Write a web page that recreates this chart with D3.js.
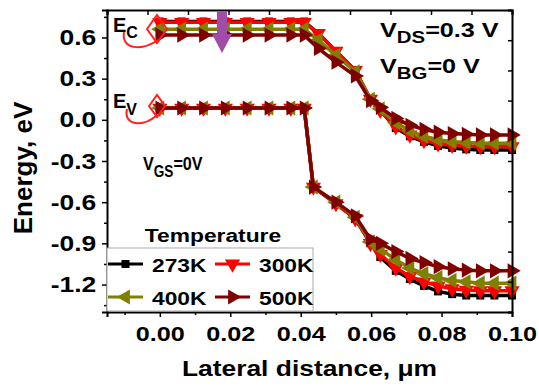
<!DOCTYPE html>
<html>
<head>
<meta charset="utf-8">
<script src="https://cdn.jsdelivr.net/npm/d3@7"></script>
<style>
  body { margin: 0; background: #fff; }
  text { font-family: "Liberation Sans", Arial, sans-serif; font-weight: bold; fill: #000; }
</style>
</head>
<body>
<div id="chart"></div>
<script>
const width = 539;
const height = 386;

// lateral positions (um) of the mesh points
const xEc = [0, 0.0062, 0.0124, 0.0186, 0.0248, 0.031, 0.0372, 0.041, 0.045, 0.050, 0.0555, 0.0598, 0.0626, 0.067, 0.071, 0.075, 0.079, 0.083, 0.087, 0.091, 0.095, 0.1];
const xEv = [0, 0.0062, 0.0124, 0.0186, 0.0248, 0.031, 0.0372, 0.041, 0.0436, 0.050, 0.0555, 0.0598, 0.0626, 0.067, 0.071, 0.075, 0.079, 0.083, 0.087, 0.091, 0.095, 0.1];

// conduction band edge (eV)
const ec273 = [0.716, 0.716, 0.716, 0.716, 0.716, 0.716, 0.716, 0.716, 0.63, 0.50, 0.36, 0.15, 0.07, -0.06, -0.12, -0.16, -0.19, -0.205, -0.215, -0.22, -0.22, -0.22];
const ec300 = [0.71, 0.71, 0.71, 0.71, 0.71, 0.71, 0.71, 0.71, 0.63, 0.50, 0.36, 0.15, 0.07, -0.05, -0.11, -0.15, -0.175, -0.185, -0.19, -0.195, -0.195, -0.195];
const ec400 = [0.66, 0.66, 0.66, 0.66, 0.66, 0.66, 0.66, 0.66, 0.58, 0.47, 0.35, 0.15, 0.08, -0.02, -0.08, -0.12, -0.145, -0.16, -0.165, -0.17, -0.17, -0.17];
const ec500 = [0.617, 0.617, 0.617, 0.617, 0.617, 0.617, 0.617, 0.617, 0.52, 0.42, 0.32, 0.14, 0.09, 0.01, -0.04, -0.07, -0.09, -0.10, -0.105, -0.11, -0.11, -0.11];

// valence band edge (eV)
const ev273 = [0.086, 0.086, 0.086, 0.086, 0.086, 0.086, 0.086, 0.086, -0.49, -0.61, -0.72, -0.90, -1.0, -1.10, -1.16, -1.21, -1.25, -1.27, -1.28, -1.28, -1.28, -1.28];
const ev300 = [0.086, 0.086, 0.086, 0.086, 0.086, 0.086, 0.086, 0.086, -0.49, -0.61, -0.72, -0.90, -0.98, -1.08, -1.14, -1.18, -1.21, -1.23, -1.24, -1.245, -1.245, -1.245];
const ev400 = [0.086, 0.086, 0.086, 0.086, 0.086, 0.086, 0.086, 0.086, -0.49, -0.60, -0.71, -0.89, -0.94, -1.02, -1.08, -1.12, -1.15, -1.17, -1.18, -1.19, -1.19, -1.19];
const ev500 = [0.086, 0.086, 0.086, 0.086, 0.086, 0.086, 0.086, 0.086, -0.49, -0.60, -0.70, -0.87, -0.90, -0.96, -1.01, -1.04, -1.07, -1.085, -1.095, -1.10, -1.10, -1.10];

const temps = ["273K", "300K", "400K", "500K"];
const colors = ["#000000", "#ff0000", "#808000", "#800000"];
const ecSeries = [ec273, ec300, ec400, ec500];
const evSeries = [ev273, ev300, ev400, ev500];

const xMajor = [0, 0.02, 0.04, 0.06, 0.08, 0.1];
const xMinor = [-0.01, 0.01, 0.03, 0.05, 0.07, 0.09];
const yMajor = [-1.2, -0.9, -0.6, -0.3, 0, 0.3, 0.6];
const yMinor = [-1.35, -1.05, -0.75, -0.45, -0.15, 0.15, 0.45, 0.75];

const mLeft = 107, mRight = 512, mTop = 10, mBottom = 312;
const STRETCH = 1.2; // the source figure is slightly widened

const x = d3.scaleLinear().domain([-0.015, 0.1]).range([mLeft, mRight]);
const y = d3.scaleLinear().domain([-1.4, 0.8]).range([mBottom, mTop]);
// frame ticks on top / right follow their own even spacing
const xTop = d3.scaleLinear().domain([0, 1]).range([mLeft, mRight]);
const yRight = d3.scaleLinear().domain([0, 1]).range([mBottom, mTop]);

const svg = d3.select("#chart")
    .append("svg")
    .attr("width", width)
    .attr("height", height);

// markers
const markerPath = [
    d3.symbol().type(d3.symbolSquare).size(64)(),
    d3.symbol().type(d3.symbolTriangle).size(100)(),
    d3.symbol().type(d3.symbolTriangle).size(100)(),
    d3.symbol().type(d3.symbolTriangle).size(100)()
];
const markerRot = [0, 180, -90, 90];

const line = d3.line().x(d => x(d[0])).y(d => y(d[1]));
const plot = svg.append("g");

temps.forEach((t, i) => {
    [[xEc, ecSeries[i]], [xEv, evSeries[i]]].forEach(([xs, ys]) => {
        const pts = xs.map((v, k) => [v, ys[k]]);
        plot.append("path")
            .attr("d", line(pts))
            .attr("fill", "none")
            .attr("stroke", colors[i])
            .attr("stroke-width", 3.5)
            .attr("stroke-linejoin", "round");
        plot.selectAll(null)
            .data(pts)
            .join("path")
            .attr("d", markerPath[i])
            .attr("transform", d => `translate(${x(d[0])},${y(d[1])}) rotate(${markerRot[i]})`)
            .attr("fill", colors[i]);
    });
});

// axes
function styleAxis(g) {
    g.select(".domain").attr("stroke-width", 2);
    g.selectAll(".tick line").attr("stroke-width", 1.5);
}

svg.append("g")
    .attr("transform", `translate(0,${mBottom})`)
    .call(d3.axisBottom(x).tickValues(xMinor).tickSize(3).tickFormat(""))
    .call(g => g.select(".domain").remove())
    .call(styleAxis);
svg.append("g")
    .attr("transform", `translate(0,${mBottom})`)
    .call(d3.axisBottom(x).tickValues(xMajor).tickSize(5).tickPadding(9).tickFormat(d => d.toFixed(2)))
    .call(styleAxis)
    .call(g => g.selectAll("text")
        .style("font-size", "21px")
        .attr("transform", `scale(${STRETCH},1)`));

svg.append("g")
    .attr("transform", `translate(${mLeft},0)`)
    .call(d3.axisLeft(y).tickValues(yMinor).tickSize(3).tickFormat(""))
    .call(g => g.select(".domain").remove())
    .call(styleAxis);
svg.append("g")
    .attr("transform", `translate(${mLeft},0)`)
    .call(d3.axisLeft(y).tickValues(yMajor).tickSize(5).tickPadding(4).tickFormat(d => d.toFixed(1)))
    .call(styleAxis)
    .call(g => g.selectAll("text")
        .style("font-size", "22px")
        .attr("transform", `scale(${STRETCH},1)`));

svg.append("g")
    .attr("transform", `translate(0,${mTop})`)
    .call(d3.axisBottom(xTop).ticks(10).tickSize(5).tickFormat(""))
    .call(styleAxis);
svg.append("g")
    .attr("transform", `translate(${mRight},0)`)
    .call(d3.axisLeft(yRight).ticks(10).tickSize(4).tickFormat(""))
    .call(styleAxis);

svg.selectAll(".domain").attr("stroke", "#000");

// axis titles
svg.append("text")
    .attr("transform", `translate(${(mLeft + mRight) / 2},376) scale(${STRETCH},1)`)
    .attr("text-anchor", "middle")
    .style("font-size", "22px")
    .text("Lateral distance, μm");

svg.append("text")
    .attr("transform", "translate(32,168) rotate(-90)")
    .attr("text-anchor", "middle")
    .style("font-size", "26px")
    .text("Energy, eV");

// text with subscripts
function label(px, py, size, parts, sx) {
    const t = svg.append("text")
        .attr("transform", `translate(${px},${py}) scale(${sx},1)`)
        .style("font-size", size + "px");
    parts.forEach(p => {
        t.append("tspan")
            .attr("dy", p[1] || 0)
            .style("font-size", p[2] ? p[2] + "px" : null)
            .text(p[0]);
    });
}

label(380, 37, 21, [["V"], ["DS", 6, 17], ["=0.3 V", -6]], STRETCH);
label(380, 73, 21, [["V"], ["BG", 6, 17], ["=0 V", -6]], STRETCH);
label(143, 170, 19, [["V"], ["GS", 7, 16], ["=0V", -7]], 0.85);
label(113, 32, 20, [["E"], ["C", 6, 16]], 1);
label(113, 108, 20, [["E"], ["V", 7, 16]], 1);

// red markers around band labels
svg.append("path")
    .attr("d", "M124,32 C121,50 142,51 158,40")
    .attr("fill", "none").attr("stroke", "#ff2020").attr("stroke-width", 2);
svg.append("path")
    .attr("d", "M147,29 L157,15 L167,29 L157,43 Z")
    .attr("fill", "none").attr("stroke", "#ff2020").attr("stroke-width", 2);
svg.append("path")
    .attr("d", "M127,109 C123,126 143,127 156,116")
    .attr("fill", "none").attr("stroke", "#ff2020").attr("stroke-width", 2);
svg.append("path")
    .attr("d", "M149,106 L157,95 L165,106 L157,117 Z")
    .attr("fill", "none").attr("stroke", "#ff2020").attr("stroke-width", 2);

// purple arrow
svg.append("path")
    .attr("d", "M217,11 L227,11 L227,34 L232,34 L222,53 L212,34 L217,34 Z")
    .attr("fill", "#a04ca8");

// legend
svg.append("text")
    .attr("transform", `translate(213,242) scale(${STRETCH},1)`)
    .attr("text-anchor", "middle")
    .style("font-size", "19px")
    .text("Temperature");

svg.append("rect")
    .attr("x", mLeft).attr("y", 248)
    .attr("width", 313 - mLeft).attr("height", mBottom - 248 - 1)
    .attr("fill", "#fff")
    .attr("stroke", "#aaa")
    .attr("stroke-width", 1);

const legPos = [[108, 264], [215, 264], [108, 297], [215, 297]];
temps.forEach((t, i) => {
    const [lx, ly] = legPos[i];
    const g = svg.append("g");
    g.append("line")
        .attr("x1", lx).attr("x2", lx + 35)
        .attr("y1", ly).attr("y2", ly)
        .attr("stroke", colors[i]).attr("stroke-width", 3);
    g.append("path")
        .attr("d", markerPath[i])
        .attr("transform", `translate(${lx + 17.5},${ly}) rotate(${markerRot[i]})`)
        .attr("fill", colors[i]);
    g.append("text")
        .attr("transform", `translate(${lx + 44},${ly + 8}) scale(${STRETCH},1)`)
        .style("font-size", "19px")
        .text(t);
});
</script>
</body>
</html>
